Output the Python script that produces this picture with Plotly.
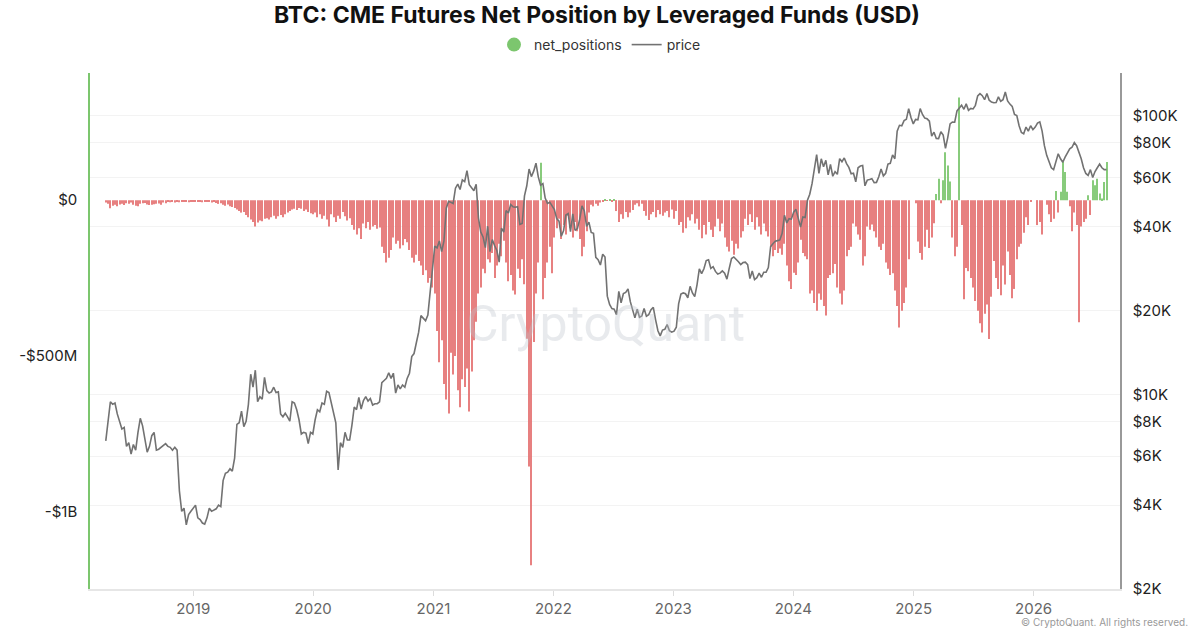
import math
import pandas as pd
import plotly.graph_objects as go

start_week = "2018-04-10"

# weekly BTC price (USD thousands)
price_2018 = [6.8, 8.0, 9.4, 9.2, 9.3, 8.5, 8.0, 7.5, 7.6, 6.5,
              6.7, 6.1, 6.6, 6.3, 7.3, 8.2, 7.7, 6.9, 6.2, 6.5,
              7.1, 7.3, 6.3, 6.35, 6.45, 6.55, 6.65, 6.5, 6.45, 6.3,
              6.45, 6.3, 4.5, 3.8, 3.9, 3.4, 3.7, 3.8]
price_2019 = [3.9, 4.0, 3.6, 3.55, 3.45, 3.42, 3.6, 3.9, 3.8, 3.85,
              3.88, 4.0, 3.95, 4.9, 5.2, 5.25, 5.4, 5.3, 5.9, 7.8,
              7.9, 8.7, 7.65, 8.0, 9.2, 11.8, 10.6, 12.2, 9.4, 9.8,
              9.6, 11.5, 10.3, 10.1, 10.2, 10.6, 10.15, 10.2, 8.5, 8.3,
              8.55, 8.3, 8.0, 9.4, 9.3, 8.8, 8.1, 7.2, 7.3, 7.25,
              6.65, 7.3, 7.2]
price_2020 = [8.1, 8.8, 8.65, 9.3, 9.2, 10.25, 10.15, 9.3, 8.75, 7.9,
              5.35, 6.7, 6.45, 7.3, 6.85, 6.85, 7.75, 9.0, 8.8, 9.75,
              8.85, 9.5, 9.8, 9.45, 9.65, 9.15, 9.25, 9.25, 9.4, 11.0,
              11.2, 11.4, 11.95, 11.4, 11.9, 10.1, 10.8, 10.45, 10.8, 10.6,
              11.4, 11.9, 13.65, 14.0, 15.3, 16.7, 19.15, 18.8, 18.35, 19.25,
              23.5, 27.1]
price_2021 = [34.0, 33.5, 35.5, 32.5, 35.5, 46.5, 49.2, 48.9, 48.4, 54.9,
              56.8, 54.3, 58.8, 58.0, 63.5, 56.5, 55.0, 53.8, 56.7, 42.9,
              38.2, 36.7, 33.6, 40.1, 32.5, 35.9, 34.2, 32.8, 29.8, 39.5,
              38.2, 45.6, 44.7, 48.0, 47.1, 46.9, 47.1, 40.7, 41.0, 51.5,
              56.0, 64.3, 60.4, 63.2, 67.5, 60.3, 56.3, 57.0, 50.6, 48.4,
              48.9, 47.6]
price_2022 = [46.0, 42.7, 41.8, 36.9, 38.7, 44.0, 44.5, 38.3, 44.4, 38.7,
              39.3, 42.4, 47.4, 45.5, 40.0, 41.5, 38.1, 37.8, 31.0, 30.4,
              29.1, 31.8, 31.1, 22.5, 21.0, 20.3, 20.2, 19.3, 23.4, 21.3,
              23.0, 23.2, 23.9, 21.5, 20.0, 18.8, 20.2, 18.9, 19.1, 20.3,
              19.05, 19.3, 20.1, 20.5, 18.5, 16.9, 16.2, 17.0, 17.1, 17.8,
              16.9, 16.7]
price_2023 = [16.85, 17.4, 21.1, 22.9, 23.1, 22.95, 22.2, 24.4, 23.1, 22.4,
              24.7, 28.2, 27.1, 28.2, 30.2, 30.4, 28.3, 28.7, 27.6, 27.0,
              27.2, 27.7, 27.2, 25.9, 28.3, 30.7, 31.1, 30.6, 29.9, 29.2,
              29.7, 29.8, 29.2, 26.0, 27.7, 25.8, 26.2, 27.2, 26.3, 27.4,
              27.4, 28.5, 33.9, 34.7, 35.4, 35.6, 35.8, 37.8, 43.9, 41.2,
              42.7, 42.5]
price_2024 = [45.0, 46.1, 43.0, 39.8, 43.3, 43.1, 49.7, 52.2, 57.0, 63.8,
              72.5, 62.0, 70.0, 65.5, 69.1, 61.3, 66.8, 60.6, 62.9, 61.6,
              70.1, 68.3, 70.5, 67.3, 65.2, 61.8, 62.1, 57.9, 65.0, 65.9,
              66.2, 56.0, 58.7, 59.0, 59.4, 57.5, 57.6, 60.3, 64.3, 60.8,
              62.1, 67.0, 67.4, 72.3, 70.0, 88.0, 92.3, 91.9, 96.0, 97.0,
              106.0, 98.5, 93.4]
price_2025 = [96.9, 96.6, 106.0, 101.0, 98.0, 97.4, 95.5, 84.4, 87.2, 82.8,
              82.7, 87.5, 85.2, 76.3, 83.6, 93.4, 94.9, 94.7, 104.0, 106.8,
              109.0, 105.4, 110.2, 104.5, 106.2, 105.7, 108.9, 117.7, 119.9, 117.9,
              114.1, 120.1, 113.6, 111.8, 111.2, 111.5, 116.8, 112.6, 114.0, 121.5,
              113.0, 110.0, 108.0, 101.0, 100.0, 92.0, 87.0, 86.0, 91.0, 88.0,
              92.0, 89.0]
price_2026 = [91.0, 94.0, 95.0, 88.0, 78.0, 72.0, 68.0, 65.0, 64.0, 68.0,
              73.0, 70.0, 68.0, 71.0, 74.0, 76.0, 77.0, 80.0, 78.0, 74.0,
              70.0, 65.0, 62.0, 61.0, 64.0, 60.0, 63.0, 65.0, 67.0, 65.0,
              64.0, 64.0]

# weekly net position of leveraged funds (USD millions)
net_2018 = [-8, -12, -26, -18, -15, -20, -14, -12, -16, -10,
            -12, -8, -15, -18, -20, -12, -10, -9, -14, -16,
            -15, -13, -12, -11, -15, -8, -10, -6, -7, -5,
            -8, -6, -7, -4, -6, -5, -7, -4]
net_2019 = [-4, -6, -3, -5, -7, -4, -6, -5, -8, -6,
            -9, -12, -10, -15, -18, -14, -20, -22, -25, -30,
            -35, -40, -38, -48, -55, -62, -70, -85, -72, -65,
            -68, -60, -58, -62, -55, -50, -60, -52, -48, -55,
            -45, -40, -35, -30, -28, -32, -25, -28, -35, -30,
            -38, -42, -45]
net_2020 = [-40, -55, -45, -60, -50, -62, -85, -45, -55, -70,
            -50, -60, -38, -52, -65, -58, -80, -95, -110, -90,
            -125, -75, -90, -70, -95, -85, -80, -92, -88, -150,
            -170, -200, -185, -160, -120, -140, -130, -155, -145, -125,
            -135, -160, -185, -200, -175, -195, -210, -240, -225, -265,
            -250, -280]
net_2021 = [-300, -420, -520, -450, -590, -640, -685, -490, -560, -500,
            -610, -665, -575, -600, -540, -678, -550, -450, -390, -300,
            -280, -220, -235, -190, -200, -170, -250, -210, -140, -180,
            -130, -200, -260, -240, -290, -303, -220, -250, -190, -270,
            -445, -855, -1172, -455, -300, -200, 120, -318, -250, -200,
            -150, -235]
net_2022 = [-120, -90, -60, -125, -80, -110, -50, -90, -120, -70,
            -100, -125, -180, -150, -100, -40, -15, -20, -12, -18,
            -8, -3, 4, -2, 3, -5, 2, -35, -70, -45,
            -60, -38, -55, -40, -32, -15, -10, -20, -12, -35,
            -50, -64, -45, -38, -55, -32, -45, -50, -40, -35,
            -55, -30]
net_2023 = [-60, -35, -80, -70, -105, -90, -55, -65, -45, -75,
            -60, -95, -122, -80, -110, -70, -95, -118, -85, -60,
            -100, -75, -120, -150, -165, -130, -175, -140, -155, -120,
            -100, -60, -80, -45, -70, -95, -55, -85, -110, -75,
            -100, -117, -150, -180, -160, -170, -155, -175, -140, -210,
            -260, -285]
net_2024 = [-233, -240, -200, -127, -170, -180, -190, -300, -290, -330,
            -355, -300, -320, -340, -370, -250, -240, -235, -205, -280,
            -300, -335, -290, -180, -160, -150, -75, -85, -110, -127,
            -210, -180, -85, -95, -78, -100, -120, -150, -160, -140,
            -200, -220, -240, -235, -290, -340, -409, -355, -330, -280,
            -190, 0, 0]
net_2025 = [-10, -133, -170, -191, -150, -95, -154, -120, -74, 20,
            69, -10, 64, 154, 111, 60, -120, -180, -150, 329,
            -80, -318, -218, -228, -250, -280, -324, -355, -395, -425,
            -365, -335, -446, -310, -195, -250, -285, -305, -210, -271,
            -165, -240, -315, -285, -190, -150, -140, -105, -55, -80,
            -5, 0]
net_2026 = [0, -80, -70, -110, 0, -15, -45, -70, -60, 29,
            -40, 27, 122, 90, 27, -20, -100, -40, -80, -392,
            -85, -70, -60, 16, -48, 64, 48, 69, 21, 5,
            58, 122]

price = [p * 1000 for p in price_2018 + price_2019 + price_2020 + price_2021
         + price_2022 + price_2023 + price_2024 + price_2025 + price_2026]
net_positions = [v * 1e6 for v in net_2018 + net_2019 + net_2020 + net_2021
                 + net_2022 + net_2023 + net_2024 + net_2025 + net_2026]
weeks = pd.date_range(start_week, periods=len(net_positions), freq="7D")

price_ticks = [2000, 4000, 6000, 8000, 10000, 20000, 40000, 60000, 80000, 100000]
price_labels = ["$2K", "$4K", "$6K", "$8K", "$10K", "$20K", "$40K", "$60K", "$80K", "$100K"]
net_ticks = [0, -500e6, -1e9]
net_labels = ["$0", "-$500M", "-$1B"]

GREEN = "#7cc66e"
RED = "#e57373"
GREY = "#727272"

bar_colors = [GREEN if v >= 0 else RED for v in net_positions]

fig = go.Figure()
fig.add_trace(go.Bar(x=weeks, y=net_positions, marker=dict(color=bar_colors, line_width=0),
                     opacity=0.9, showlegend=False, name="net_positions"))
# legend entry with a round marker
fig.add_trace(go.Scatter(x=[None], y=[None], mode="markers", name="net_positions",
                         marker=dict(color=GREEN, size=14, symbol="circle")))
fig.add_trace(go.Scatter(x=weeks[:len(price)], y=price, mode="lines", name="price",
                         line=dict(color=GREY, width=1.6), yaxis="y2"))

fig.update_layout(
    width=1200, height=630,
    paper_bgcolor="white", plot_bgcolor="white",
    margin=dict(l=90, r=80, t=72, b=38),
    bargap=0.55,
    font=dict(family="Inter, Roboto, sans-serif", color="#222"),
    title=dict(text="<b>BTC: CME Futures Net Position by Leveraged Funds (USD)</b>",
               xref="container", x=0.4975, xanchor="center",
               yref="container", y=1 - 15 / 630, yanchor="middle",
               font=dict(size=23, color="#111")),
    legend=dict(orientation="h", xref="container", x=0.5, xanchor="center",
                yref="container", y=1 - 45 / 630, yanchor="middle",
                font=dict(size=14, color="#333"), itemwidth=30),
    xaxis=dict(type="date", range=["2018-02-21", "2026-09-21"],
               tick0="2019-01-01", dtick="M12", tickformat="%Y",
               showgrid=False, showline=True, linecolor="#e6e6e6", linewidth=1.5,
               ticks="outside", ticklen=5, tickcolor="#dcdcdc",
               tickfont=dict(size=15, color="#666")),
    yaxis=dict(range=[-1.248e9, 0.408e9], tickvals=net_ticks, ticktext=net_labels,
               showgrid=False, zeroline=False, showline=True,
               linecolor=GREEN, linewidth=1.5, ticks="", ticklabelstandoff=8,
               tickfont=dict(size=15, color="#222")),
    yaxis2=dict(type="log", overlaying="y", side="right",
                range=[math.log10(2000), 5.153],
                tickvals=price_ticks, ticktext=price_labels,
                showgrid=True, gridcolor="#f3f3f3", zeroline=False,
                showline=True, linecolor="#999", linewidth=1.5,
                ticks="", ticklabelstandoff=8,
                tickfont=dict(size=15, color="#222")),
    annotations=[
        dict(text="CryptoQuant", xref="paper", yref="paper", x=0.5, y=0.513,
             showarrow=False, font=dict(size=50, color="rgba(190,194,204,0.35)",
                                        family="Roboto")),
        dict(text="© CryptoQuant. All rights reserved.", xref="paper", yref="paper",
             x=1.068, y=-0.063, xanchor="right", yanchor="middle", showarrow=False,
             font=dict(size=10, color="#999")),
    ],
)

fig.write_html("out.html", config={"displayModeBar": False},
               post_script="document.body.style.margin='0';")
